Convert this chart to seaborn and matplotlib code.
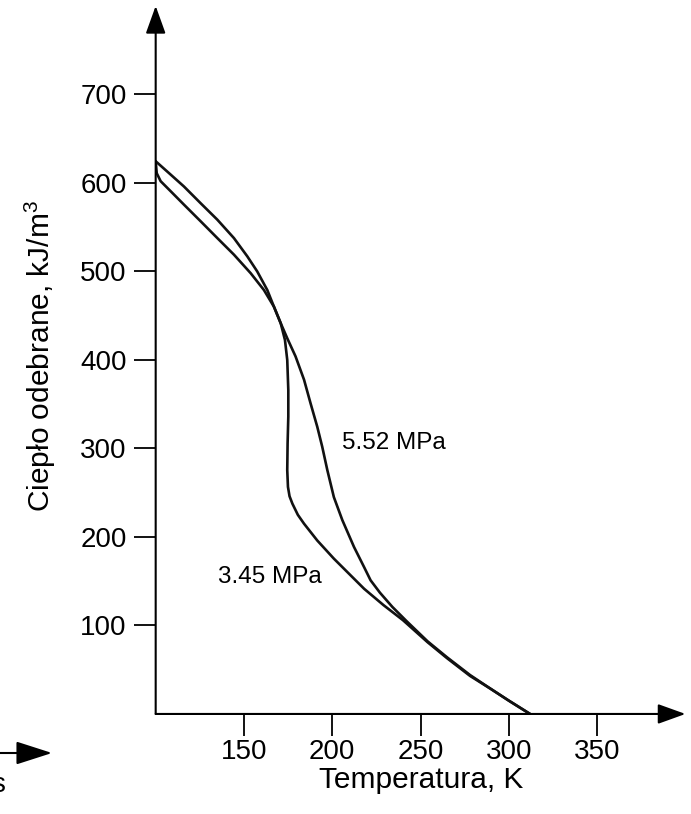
import matplotlib
matplotlib.use('Agg')
import matplotlib.pyplot as plt
import seaborn as sns
import pandas as pd

# Data (temperature K, heat removed kJ/m3)
t_345 = [100, 100.6, 102.8, 108.5, 116, 125.5, 134.9, 144.3, 153.8, 161.3, 167,
         170.8, 173.2, 174.5, 175.1, 175.1, 174.7, 174.5, 174.9, 175.8, 177.4,
         180.5, 184, 191.5, 200.9, 210.4, 218, 229, 240, 254, 265, 278, 290,
         300, 312]
q_345 = [624.5, 611, 602, 590.6, 575.5, 556.6, 537.7, 519, 498, 479, 460,
         441.5, 422.6, 400, 366, 336, 305.7, 275.5, 256.6, 246, 237.7,
         225, 215, 196, 175.5, 156.6, 141.5, 123, 106, 81, 63, 43, 28,
         15, 0]

t_552 = [100, 108.5, 116, 125.5, 134.9, 144.3, 151.9, 157.5, 163.2, 167, 170.8,
         174.5, 179.2, 184, 187.7, 191.5, 194.3, 197.2, 200.9, 205.7, 212.3,
         218, 221.7, 227, 234, 242, 254, 265, 278, 290, 300, 312]
q_552 = [624.5, 609.4, 596, 577, 558.5, 537.7, 517, 500, 479, 460, 441.5,
         424.5, 404, 377.7, 351, 324.5, 302, 275.5, 245, 219, 188.7,
         166, 151, 137, 121, 105, 82, 64, 44, 28, 15, 0]

x_ticks = [150, 200, 250, 300, 350]
y_ticks = [100, 200, 300, 400, 500, 600, 700]

df = pd.concat([
    pd.DataFrame({'T': t_345, 'Q': q_345, 'p': '3.45 MPa'}),
    pd.DataFrame({'T': t_552, 'Q': q_552, 'p': '5.52 MPa'}),
])

sns.set_style('white')
plt.rcParams['font.family'] = ['Liberation Sans', 'DejaVu Sans']
plt.rcParams['mathtext.fontset'] = 'custom'
plt.rcParams['mathtext.rm'] = 'Liberation Sans'
plt.rcParams['mathtext.it'] = 'Liberation Sans'
plt.rcParams['text.color'] = 'black'
plt.rcParams['axes.labelcolor'] = 'black'
plt.rcParams['xtick.color'] = 'black'
plt.rcParams['ytick.color'] = 'black'

fig = plt.figure(figsize=(6.91, 8.14), dpi=100)
ax = fig.add_axes([0.2253, 0.1229, 0.7667, 0.8698])

for name, grp in df.groupby('p'):
    sns.lineplot(data=grp, x='T', y='Q', sort=False, estimator=None,
                 color='#111111', lw=1.9, ax=ax, legend=False)

ax.set_xlim(100, 400)
ax.set_ylim(0, 800)
for s in ax.spines.values():
    s.set_visible(False)

# axes drawn as arrows
arrow = dict(arrowstyle='-|>,head_length=1.0,head_width=0.36', mutation_scale=17,
             lw=1.5, color='black', shrinkA=0, shrinkB=0)
ax.annotate('', xy=(1, 0), xytext=(0, 0), xycoords='axes fraction', arrowprops=arrow)
ax.annotate('', xy=(0, 1), xytext=(0, 0), xycoords='axes fraction', arrowprops=arrow)

ax.set_xticks(x_ticks)
ax.set_yticks(y_ticks)
ax.tick_params(direction='out', length=16, width=1.3, color='black',
               labelsize=20, bottom=True, left=True, pad=5)
ax.tick_params(axis='x', pad=2)

ax.set_xlabel('Temperatura, K', fontsize=21.5)
ax.set_ylabel('Ciepło odebrane, kJ/m$^3$', fontsize=21.5)
ax.xaxis.set_label_coords(0.502, -0.074)
ax.yaxis.set_label_coords(-0.185, 0.505)

ax.text(205.5, 306, '5.52 MPa', fontsize=17.5, va='center', ha='left')
ax.text(135.3, 155, '3.45 MPa', fontsize=17.5, va='center', ha='left')

# stray arrow fragment in the lower-left corner
fig.patches.append(matplotlib.patches.FancyArrowPatch(
    (0.0, 1 - 753 / 814), (52 / 691, 1 - 753 / 814), transform=fig.transFigure,
    arrowstyle='-|>,head_length=1.4,head_width=0.45', mutation_scale=16,
    lw=1.5, color='black', shrinkA=0, shrinkB=0))
fig.text(5 / 691, 1 - 785 / 814, 's', fontsize=20, ha='right', va='center')

fig.savefig('out.png', dpi=100)
